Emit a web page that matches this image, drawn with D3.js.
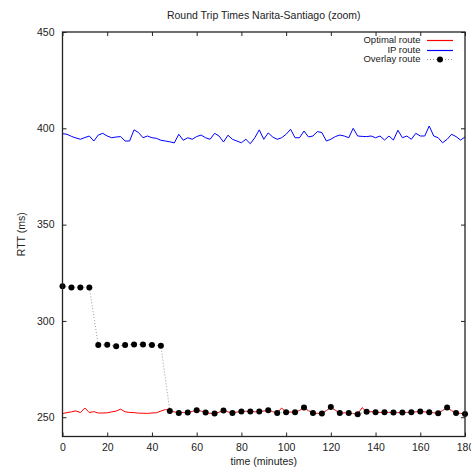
<!DOCTYPE html>
<html>
<head>
<meta charset="utf-8">
<script src="https://cdn.jsdelivr.net/npm/d3@7"></script>
<style>
  body { margin: 0; background: #fff; }
  svg { display: block; font-family: "Liberation Sans", Arial, sans-serif; }
</style>
</head>
<body>
<svg id="chart" width="471" height="467"></svg>
<script>
// minutes, sampled every 2 minutes for the optimal and ip routes.
var times = d3.range(0, 181, 2);

// overlay route is sampled every 4 minutes.
var overlayTimes = d3.range(0, 181, 4);

var ipRoute = [
  397.2, 396.9, 395.8, 395.0, 394.3, 395.2, 396.0, 393.4, 396.5, 397.4,
  396.0, 395.1, 395.5, 395.7, 393.4, 393.4, 399.2, 397.8, 395.1, 396.0,
  395.1, 394.8, 393.8, 393.4, 393.0, 392.4, 396.9, 393.8, 395.1, 394.3,
  395.7, 396.5, 395.1, 394.3, 397.4, 396.0, 392.9, 396.4, 394.3, 393.4,
  392.5, 394.3, 392.0, 395.1, 399.2, 394.3, 397.6, 395.5, 394.3, 395.1,
  396.9, 399.5, 395.1, 395.1, 398.6, 395.5, 396.0, 398.3, 397.8, 393.4,
  394.3, 395.7, 396.5, 396.0, 395.1, 400.0, 396.0, 395.8, 395.7, 396.0,
  395.1, 396.0, 393.9, 396.0, 393.9, 399.0, 395.1, 396.0, 394.3, 397.4,
  396.0, 396.0, 401.2, 396.0, 395.1, 392.5, 394.3, 396.9, 395.7, 393.9,
  395.5
];

var optimalRoute = [
  251.9, 252.4, 252.8, 253.3, 252.4, 254.8, 252.4, 252.9, 252.2, 252.2,
  252.3, 252.8, 253.2, 254.2, 252.8, 252.5, 252.4, 252.1, 252.1, 252.0,
  252.2, 252.3, 253.2, 254.0, 253.3, 252.8, 252.2, 252.5, 252.4, 253.0,
  253.6, 253.2, 252.4, 252.0, 251.9, 252.6, 253.5, 252.8, 252.2, 252.7,
  253.0, 253.1, 253.0, 252.8, 253.0, 253.2, 253.6, 252.9, 252.2, 254.8,
  252.6, 252.7, 252.6, 253.5, 255.0, 253.4, 252.2, 252.0, 251.9, 253.4,
  255.3, 253.6, 252.2, 252.3, 252.2, 251.9, 251.6, 255.0, 252.8, 252.9,
  252.6, 252.5, 252.6, 252.5, 252.4, 252.4, 252.4, 252.5, 252.6, 252.8,
  253.0, 252.8, 252.6, 252.3, 252.1, 253.5, 255.0, 253.4, 252.2, 252.0,
  251.7
];

var overlayRoute = [
  318.0, 317.4, 317.4, 317.4, 287.5, 287.6, 286.9, 287.5, 287.8, 287.8,
  287.5, 287.1, 253.3, 252.2, 252.4, 253.6, 252.4, 251.9, 253.5, 252.2,
  253.0, 253.0, 253.0, 253.6, 252.2, 252.6, 252.6, 255.0, 252.2, 251.9,
  255.3, 252.2, 252.2, 251.6, 252.8, 252.6, 252.6, 252.4, 252.4, 252.6,
  253.0, 252.6, 252.1, 255.0, 252.2, 251.7
];

var xTicks = [0, 20, 40, 60, 80, 100, 120, 140, 160, 180];
var yTicks = [250, 300, 350, 400, 450];

var legendNames = ["Optimal route", "IP route", "Overlay route"];
var legendColors = ["#ff0000", "#0000ff", "#000"];

var drawChart = function() {
  var svg = d3.select("#chart");
  var margin = {left: 62.5, right: 6, top: 32, bottom: 30.5};
  var width = 471 - margin.left - margin.right;
  var height = 467 - margin.top - margin.bottom;

  var x = d3.scaleLinear().domain([0, 180]).range([0, width]);
  var y = d3.scaleLinear().domain([240, 450]).range([height, 0]);

  var g = svg.append("g")
    .attr("transform", "translate(" + margin.left + "," + margin.top + ")");

  // title.
  svg.append("text")
    .attr("x", margin.left + width / 2)
    .attr("y", 19)
    .attr("text-anchor", "middle")
    .attr("font-size", 10.5)
    .attr("fill", "#222")
    .text("Round Trip Times Narita-Santiago (zoom)");

  // axes, ticks pointing inward and mirrored.
  var tickLen = 4;
  var bottomAxis = d3.axisBottom(x).tickValues(xTicks).tickSizeInner(-tickLen).tickSizeOuter(0).tickPadding(7);
  var topAxis = d3.axisTop(x).tickValues(xTicks).tickSizeInner(-tickLen).tickSizeOuter(0).tickFormat("");
  var leftAxis = d3.axisLeft(y).tickValues(yTicks).tickSizeInner(-tickLen).tickSizeOuter(0).tickPadding(8);
  var rightAxis = d3.axisRight(y).tickValues(yTicks).tickSizeInner(-tickLen).tickSizeOuter(0).tickFormat("");

  var styleAxis = function(sel) {
    sel.selectAll(".domain").remove();
    sel.selectAll("line").attr("stroke", "#222");
    sel.selectAll("text").attr("font-size", 10.5).attr("fill", "#222")
      .attr("font-family", "\"Liberation Sans\", Arial, sans-serif");
  };

  g.append("g").attr("transform", "translate(0," + height + ")").call(bottomAxis).call(styleAxis);
  g.append("g").call(topAxis).call(styleAxis);
  g.append("g").call(leftAxis).call(styleAxis);
  g.append("g").attr("transform", "translate(" + width + ",0)").call(rightAxis).call(styleAxis);

  // axis titles.
  svg.append("text")
    .attr("x", margin.left + width / 2)
    .attr("y", 465)
    .attr("text-anchor", "middle")
    .attr("font-size", 10.5)
    .attr("fill", "#222")
    .text("time (minutes)");

  svg.append("text")
    .attr("transform", "translate(25," + (margin.top + height / 2) + ") rotate(-90)")
    .attr("text-anchor", "middle")
    .attr("font-size", 10.5)
    .attr("fill", "#222")
    .text("RTT (ms)");

  // series.
  var line = d3.line()
    .x(function(d) { return x(d[0]); })
    .y(function(d) { return y(d[1]); });

  var ipPoints = times.map(function(t, i) { return [t, ipRoute[i]]; });
  var optimalPoints = times.map(function(t, i) { return [t, optimalRoute[i]]; });
  var overlayPoints = overlayTimes.map(function(t, i) { return [t, overlayRoute[i]]; });

  g.append("path").datum(optimalPoints)
    .attr("d", line).attr("fill", "none")
    .attr("stroke", legendColors[0]).attr("stroke-width", 1);

  g.append("path").datum(ipPoints)
    .attr("d", line).attr("fill", "none")
    .attr("stroke", legendColors[1]).attr("stroke-width", 1);

  g.append("path").datum(overlayPoints)
    .attr("d", line).attr("fill", "none")
    .attr("stroke", "#999").attr("stroke-width", 1)
    .attr("stroke-dasharray", "1,2");

  g.selectAll("circle.overlay").data(overlayPoints).enter()
    .append("circle").attr("class", "overlay")
    .attr("cx", function(d) { return x(d[0]); })
    .attr("cy", function(d) { return y(d[1]); })
    .attr("r", 3)
    .attr("fill", "#000");

  // frame.
  g.append("rect")
    .attr("width", width).attr("height", height)
    .attr("fill", "none").attr("stroke", "#222").attr("stroke-width", 1.3);

  // legend.
  var legend = svg.append("g");
  legendNames.forEach(function(name, i) {
    var ly = 40 + i * 9.5;
    var lineY = Math.round(ly) + 0.5;
    legend.append("text")
      .attr("x", 420.5).attr("y", ly)
      .attr("dy", "0.35em")
      .attr("text-anchor", "end")
      .attr("font-size", 9.5)
      .attr("fill", "#222")
      .text(name);
    if (i < 2) {
      legend.append("line")
        .attr("x1", 427).attr("x2", 453).attr("y1", lineY).attr("y2", lineY)
        .attr("stroke", legendColors[i]).attr("stroke-width", 1.2);
    } else {
      legend.append("line")
        .attr("x1", 427).attr("x2", 453).attr("y1", lineY).attr("y2", lineY)
        .attr("stroke", "#999").attr("stroke-width", 1)
        .attr("stroke-dasharray", "1,2");
      legend.append("circle")
        .attr("cx", 440).attr("cy", lineY).attr("r", 3).attr("fill", "#000");
    }
  });
};

drawChart();
</script>
</body>
</html>
